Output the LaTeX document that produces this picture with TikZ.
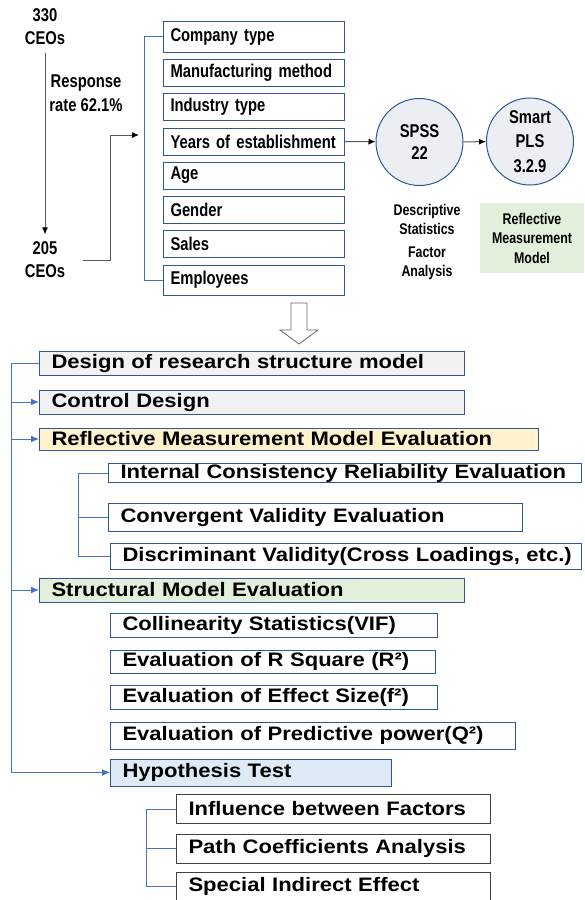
\documentclass[tikz,border=0pt]{standalone}
\usepackage{fontspec}
\setmainfont{Liberation Sans}
\newfontfamily\narrowfont[FakeStretch=0.80]{Liberation Sans}
\newfontfamily\widefont[FakeStretch=1.13]{Liberation Sans}
\usepackage{tikz}
\usetikzlibrary{arrows.meta}

\definecolor{linkblue}{HTML}{4472C4}
\definecolor{boxblue}{HTML}{2F5597}
\definecolor{arrowgrey}{HTML}{595959}
\definecolor{greyfill}{HTML}{F2F2F2}
\definecolor{yellowfill}{HTML}{FFF2CC}
\definecolor{greenfill}{HTML}{E2EFDA}
\definecolor{bluefill}{HTML}{DEEBF7}
\definecolor{circfill}{HTML}{EBEEF3}

\tikzset{
  factor/.style={draw=boxblue, line width=1pt, anchor=west, minimum height=27pt,
    text width=167pt, inner xsep=7pt, align=left,
    font=\narrowfont\bfseries\fontsize{18.5}{21}\selectfont},
  tool/.style={circle, draw=boxblue, fill=circfill, line width=1pt, minimum size=87pt,
    inner sep=0pt, align=center, font=\narrowfont\bfseries\fontsize{18.5}{22.5}\selectfont},
  note/.style={align=center, font=\narrowfont\bfseries\fontsize{15.5}{19.5}\selectfont},
  count/.style={align=center, font=\narrowfont\bfseries\fontsize{18.5}{23}\selectfont},
  stagebox/.style={draw=boxblue, line width=1pt, anchor=west, inner xsep=12pt,
    inner ysep=0pt, align=left, font=\widefont\bfseries\fontsize{19.5}{21}\selectfont},
  subbox/.style={stagebox, draw=black!75},
  link/.style={draw=linkblue, line width=1pt, >={Latex[length=8pt,width=7pt]}},
  flow/.style={draw=arrowgrey, line width=1pt, >={Latex[length=7pt,width=6pt,color=black]}}
}

\begin{document}
\begin{tikzpicture}[x=1pt, y=-1pt]
  \useasboundingbox (0,0) rectangle (584,900);

  % survey
  \node[count] (c330) at (45,27) {330\\CEOs};
  \node[count] (c205) at (45,260) {205\\CEOs};
  \node[count, font=\narrowfont\bfseries\fontsize{18.5}{24}\selectfont] (rate) at (86,93) {Response\\rate 62.1\%};
  \draw[flow, ->, shorten <=4pt, shorten >=4pt] (c330) -- (c205);

  % control variables
  \node[factor, minimum height=31pt] (f1) at (163,36.5) {Company type};
  \node[factor] (f2) at (163,73) {Manufacturing method};
  \node[factor] (f3) at (163,107) {Industry type};
  \node[factor] (f4) at (163,141.5) {Years of establishment};
  \node[factor] (f5) at (163,175.5) {Age};
  \node[factor] (f6) at (163,210) {Gender};
  \node[factor] (f7) at (163,244) {Sales};
  \node[factor, minimum height=30pt] (f8) at (163,280) {Employees};

  \coordinate (tb) at (144,0);
  \draw[link] (f1.west) -- (f1.west -| tb) |- (f8.west);
  \coordinate (fin) at (139,135);
  \draw[flow, ->] ([xshift=14pt]c205.east) -- ++(28,0) |- (fin);

  % tools
  \node[tool] (spss) at (419.5,142) {SPSS\\22};
  \node[tool, font=\narrowfont\bfseries\fontsize{18.5}{24.5}\selectfont] (pls) at (530,141.5) {Smart\\PLS\\3.2.9};
  \draw[flow, ->] (f4.east) -- (spss);
  \draw[flow, ->] (spss) -- (pls);
  \node[note] (desc) at (427,242) {Descriptive\\Statistics\\[3pt]Factor\\Analysis};
  \node[note, fill=greenfill, minimum width=104pt, minimum height=70pt] (rmm) at (532,238) {Reflective\\Measurement\\Model};

  % big arrow
  \draw[draw=black!60, fill=white, line width=0.8pt] (291,303) -- (307,303) -- (307,330) -- (318,330)
    -- (299,344) -- (280,330) -- (291,330) -- cycle;

  % evaluation steps
  \node[stagebox, fill=greyfill, text width=401pt, minimum height=24pt] (design) at (39,363) {Design of research structure model};
  \node[stagebox, fill=greyfill, text width=401pt, minimum height=24pt] (control) at (39,402) {Control Design};
  \node[stagebox, fill=yellowfill, text width=475pt, minimum height=22pt] (reflect) at (39,439) {Reflective Measurement Model Evaluation};
  \node[stagebox, text width=449pt, minimum height=18pt] (internal) at (108,473) {Internal Consistency Reliability Evaluation};
  \node[stagebox, text width=390pt, minimum height=28pt] (converge) at (108,517) {Convergent Validity Evaluation};
  \node[stagebox, text width=447pt, minimum height=26pt] (discrim) at (110,556.5) {\mbox{Discriminant Validity(Cross Loadings, etc.)}};
  \node[stagebox, fill=greenfill, text width=401pt, minimum height=24pt] (struct) at (39,590) {Structural Model Evaluation};
  \node[stagebox, text width=303pt, minimum height=24pt] (vif) at (110,625) {Collinearity Statistics(VIF)};
  \node[stagebox, text width=301pt, minimum height=23pt] (rsq) at (110,661.5) {Evaluation of R Square (R²)};
  \node[stagebox, text width=303pt, minimum height=24pt] (fsq) at (110,697) {Evaluation of Effect Size(f²)};
  \node[stagebox, text width=381pt, minimum height=27pt] (qsq) at (110,735.5) {Evaluation of Predictive power(Q²)};
  \node[stagebox, fill=bluefill, text width=257pt, minimum height=27pt] (hypo) at (110,772.5) {Hypothesis Test};
  \node[subbox, text width=290pt, minimum height=29pt] (infl) at (176,809) {Influence between Factors};
  \node[subbox, text width=290pt, minimum height=29pt] (path) at (176,848.5) {Path Coefficients Analysis};
  \node[subbox, text width=290pt, minimum height=29pt] (indir) at (176,886.5) {Special Indirect Effect};

  % links
  \coordinate (sp) at (11,363);
  \draw[link, ->] (design.west) -- (sp) |- (hypo.west);
  \draw[link, ->] (sp) |- (control.west);
  \draw[link, ->] (sp) |- (reflect.west);
  \draw[link, ->] (sp) |- (struct.west);

  \coordinate (rb) at (78,0);
  \draw[link] (internal.west) -- (internal.west -| rb) |- (discrim.west);
  \draw[link] (converge.west) -- (converge.west -| rb);

  \coordinate (hb) at (146,0);
  \draw[link] (infl.west) -- (infl.west -| hb) |- (indir.west);
  \draw[link] (path.west) -- (path.west -| hb);
\end{tikzpicture}
\end{document}
